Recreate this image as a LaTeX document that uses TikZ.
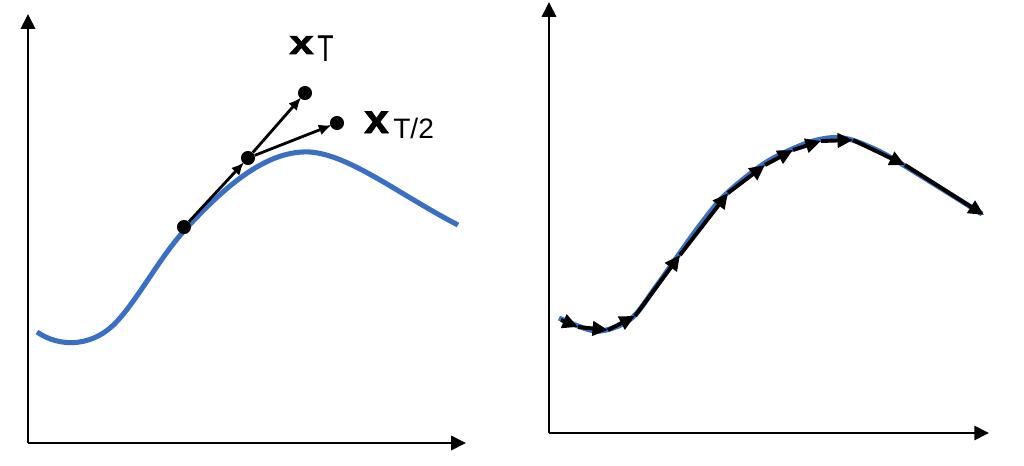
\documentclass[tikz,border=0pt]{standalone}
\usepackage{fontspec}
\setmainfont{Liberation Sans}
\newfontfamily\boldx[FakeBold=1.8]{Liberation Sans Bold}
\usetikzlibrary{arrows.meta}
\definecolor{curveblue}{RGB}{58,112,196}
\tikzset{
  axis/.style={line width=2pt,-{Triangle[length=10.5pt,width=10pt]}},
  bluecurve/.style={curveblue,line width=3.6pt},
  dot/.style={circle,fill=black,inner sep=0pt,minimum size=10pt},
  vec/.style={line width=2pt,-{Latex[length=9pt,width=8pt]},shorten >=-1pt},
  flow/.style={line width=2.8pt,-{Triangle[length=11pt,width=10pt]}},
  lbl/.style={inner sep=0pt,anchor=base west}
}
\begin{document}
\begin{tikzpicture}[x=0.025cm,y=-0.025cm]
\useasboundingbox (0,0) rectangle (1024,466);
% left axes
\coordinate (o1) at (28,443);
\coordinate (y1) at (28,14);
\coordinate (x1) at (466,443);
\draw[axis] (o1) -- (y1);
\draw[axis] (o1) -- (x1);
% left curve
\draw[bluecurve] (37,332) .. controls (60,348) and (95,348) .. (120,318)
  .. controls (140,295) and (160,258) .. (183,232)
  .. controls (230,180) and (270,150) .. (310,152)
  .. controls (350,155) and (400,195) .. (458,225);
% dots
\node[dot] (d1) at (184,227) {};
\node[dot] (d2) at (248,158) {};
\node[dot] (d3) at (305,93) {};
\node[dot] (d4) at (337,123) {};
\draw[vec] (d1) -- (d2);
\draw[vec] (d2) -- (d3);
\draw[vec] (d2) -- (d4);
% labels
\node[lbl] (lx1) at (289,54) {\scalebox{1.3}[1]{\fontsize{24}{24}\selectfont\boldx x}};
\node[lbl] (lt1) at (317,62) {\scalebox{1}[1.4]{\fontsize{19}{19}\selectfont T}};
\node[lbl] (lx2) at (364,133) {\scalebox{1.08}[1]{\fontsize{29}{29}\selectfont\boldx x}};
\node[lbl] (lt2) at (393,138) {\fontsize{20}{20}\selectfont T/2};
% right axes
\coordinate (o2) at (549,433);
\coordinate (y2) at (549,2);
\coordinate (x2) at (989,433);
\draw[axis] (o2) -- (y2);
\draw[axis] (o2) -- (x2);
% right curve
\draw[bluecurve] plot[smooth,tension=0.6] coordinates {(559,318) (590,330) (610,329) (633,317) (655,288) (677,257) (700,225) (725,195) (762,165) (790,150) (817,140) (843,138) (870,147) (900,163) (982,214)};
% flow arrows
\coordinate (p0) at (561,320);
\coordinate (p1) at (578,327);
\coordinate (p2) at (608,330);
\coordinate (p3) at (635,316);
\coordinate (p4) at (680,255);
\coordinate (p5) at (728,193);
\coordinate (p6) at (765,165);
\coordinate (p7) at (793,150);
\coordinate (p8) at (821,141);
\coordinate (p9) at (853,140);
\coordinate (p10) at (905,165);
\coordinate (p11) at (984,215);
\draw[flow] (p0) -- (p1);
\draw[flow] (p1) -- (p2);
\draw[flow] (p2) -- (p3);
\draw[flow] (p3) -- (p4);
\draw[flow] (p4) -- (p5);
\draw[flow] (p5) -- (p6);
\draw[flow] (p6) -- (p7);
\draw[flow] (p7) -- (p8);
\draw[flow] (p8) -- (p9);
\draw[flow] (p9) -- (p10);
\draw[flow] (p10) -- (p11);
\end{tikzpicture}
\end{document}
